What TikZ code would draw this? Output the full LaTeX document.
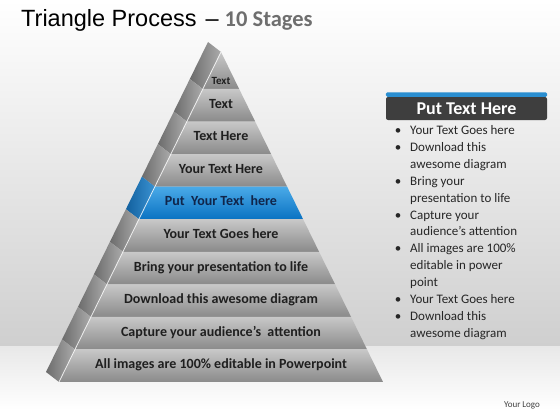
\documentclass[tikz,border=0pt]{standalone}
\usepackage{fontspec}
\setmainfont{Carlito}
\newfontfamily\titlefont{Liberation Sans}

\definecolor{bandtop}{HTML}{C8C8C8}
\definecolor{bandbot}{HTML}{8A8A8A}
\definecolor{sidedark}{HTML}{6C6C6C}
\definecolor{sidelight}{HTML}{ABABAB}
\definecolor{bluetop}{HTML}{4AAAE8}
\definecolor{bluebot}{HTML}{0A72C2}
\definecolor{bluesidedark}{HTML}{12609E}
\definecolor{bluesidelight}{HTML}{3A92D2}
\definecolor{bluetext}{HTML}{10254A}
\definecolor{headgray}{HTML}{3E3E3E}
\definecolor{headblue}{HTML}{2A8ED0}
\definecolor{stagegray}{HTML}{6E6E6E}
\definecolor{wallgray}{HTML}{CFCFCF}

\tikzset{
  bandlabel/.style={font=\fontsize{14}{16}\selectfont\bfseries, text=black!88,
    text height=1.5ex, text depth=.25ex, inner sep=0pt},
  listtext/.style={font=\fontsize{13}{15}\selectfont, text=black!85,
    inner sep=0pt, anchor=base west},
  headbox/.style={fill=headgray, rounded corners=2pt, minimum width=161pt,
    minimum height=23pt, inner sep=0pt, text=white,
    font=\fontsize{18}{20}\selectfont\bfseries}
}

\begin{document}
\begin{tikzpicture}[x=1pt,y=-1pt]
  \useasboundingbox (0,0) rectangle (560,420);

  % Draw the wall and the floor behind the pyramid
  \fill[white] (0,0) rectangle (560,420);
  \shade[top color=white, middle color=black!5, bottom color=wallgray] (0,0) rectangle (560,346);
  \shade[top color=black!9, bottom color=white] (0,346) rectangle (560,410);

  % Title
  \node[anchor=base west, inner sep=0pt] (title) at (21,27)
    {\titlefont\fontsize{23.5}{28}\selectfont Triangle Process\hspace{9pt}–\hspace{6pt}{\color{stagegray}\rmfamily\fontsize{22.5}{24}\selectfont\bfseries 10 Stages}};

  \pgfmathsetmacro{\cx}{221}
  \pgfmathsetmacro{\ay}{52}
  \pgfmathsetmacro{\by}{382}
  \pgfmathsetmacro{\hw}{162}
  \pgfmathsetmacro{\slope}{\hw/(\by-\ay)}

  % Draw the ten stages, from the top down
  \foreach \i/\lab in {1/{\fontsize{11}{12}\selectfont Text}, 2/Text, 3/Text Here, 4/Your Text Here,
      5/\color{bluetext}Put~ Your Text~ here, 6/Your Text Goes here, 7/Bring your presentation to life,
      8/Download this awesome diagram, 9/Capture your audience’s~ attention,
      10/All images are 100\% editable in Powerpoint} {
    \pgfmathsetmacro{\ytop}{\i==1 ? \ay : 89+(\i-2)*32.555}
    \pgfmathsetmacro{\ybot}{89+(\i-1)*32.555}
    \pgfmathsetmacro{\wtop}{\slope*(\ytop-\ay)}
    \pgfmathsetmacro{\wbot}{\slope*(\ybot-\ay)}
    \pgfmathsetmacro{\ly}{\i==1 ? 82 : (\ytop+\ybot)/2}
    \ifnum\i=5
      \def\ctop{bluetop}\def\cbot{bluebot}\def\csd{bluesidedark}\def\csl{bluesidelight}
    \else
      \def\ctop{bandtop}\def\cbot{bandbot}\def\csd{sidedark}\def\csl{sidelight}
    \fi
    % side face
    \shade[left color=\csd, right color=\csl]
      (\cx-\wtop,\ytop) -- (\cx-\wbot,\ybot) -- ++(-13,-10) -- (\cx-\wtop-13,\ytop-10) -- cycle;
    % front face
    \shade[top color=\ctop, bottom color=\cbot]
      (\cx-\wtop,\ytop) -- (\cx+\wtop,\ytop) -- (\cx+\wbot,\ybot) -- (\cx-\wbot,\ybot) -- cycle;
    \node[bandlabel] (stage\i) at (\cx,\ly) {\lab};
  }

  % Light edge between front and side
  \coordinate (apex) at (\cx,\ay);
  \coordinate (baseleft) at (\cx-\hw,\by);
  \draw[white, opacity=.8, line width=.8pt] (apex) -- (baseleft);

  % Header of the text panel
  \node[headbox] (head) at (466.5,108.5) {Put Text Here};
  \fill[headblue, rounded corners=1.5pt] (head.north west) rectangle ([yshift=4.5pt]head.north east);

  % Bullet list
  \foreach \k/\txt in {0/Your Text Goes here, 1/Download this, 2/awesome diagram,
      3/Bring your, 4/presentation to life, 5/Capture your, 6/audience’s attention,
      7/All images are 100\%, 8/editable in power, 9/point, 10/Your Text Goes here,
      11/Download this, 12/awesome diagram}
    \node[listtext] (line\k) at (410,134.5+16.9*\k) {\txt};
  \foreach \k in {0,1,3,5,7,10,11}
    \node[listtext, anchor=base] (dot\k) at (398,134.5+16.9*\k) {\textbullet};

  \node[font=\fontsize{9}{10}\selectfont, text=black!75] (logo) at (522,405) {Your Logo};

\end{tikzpicture}
\end{document}
